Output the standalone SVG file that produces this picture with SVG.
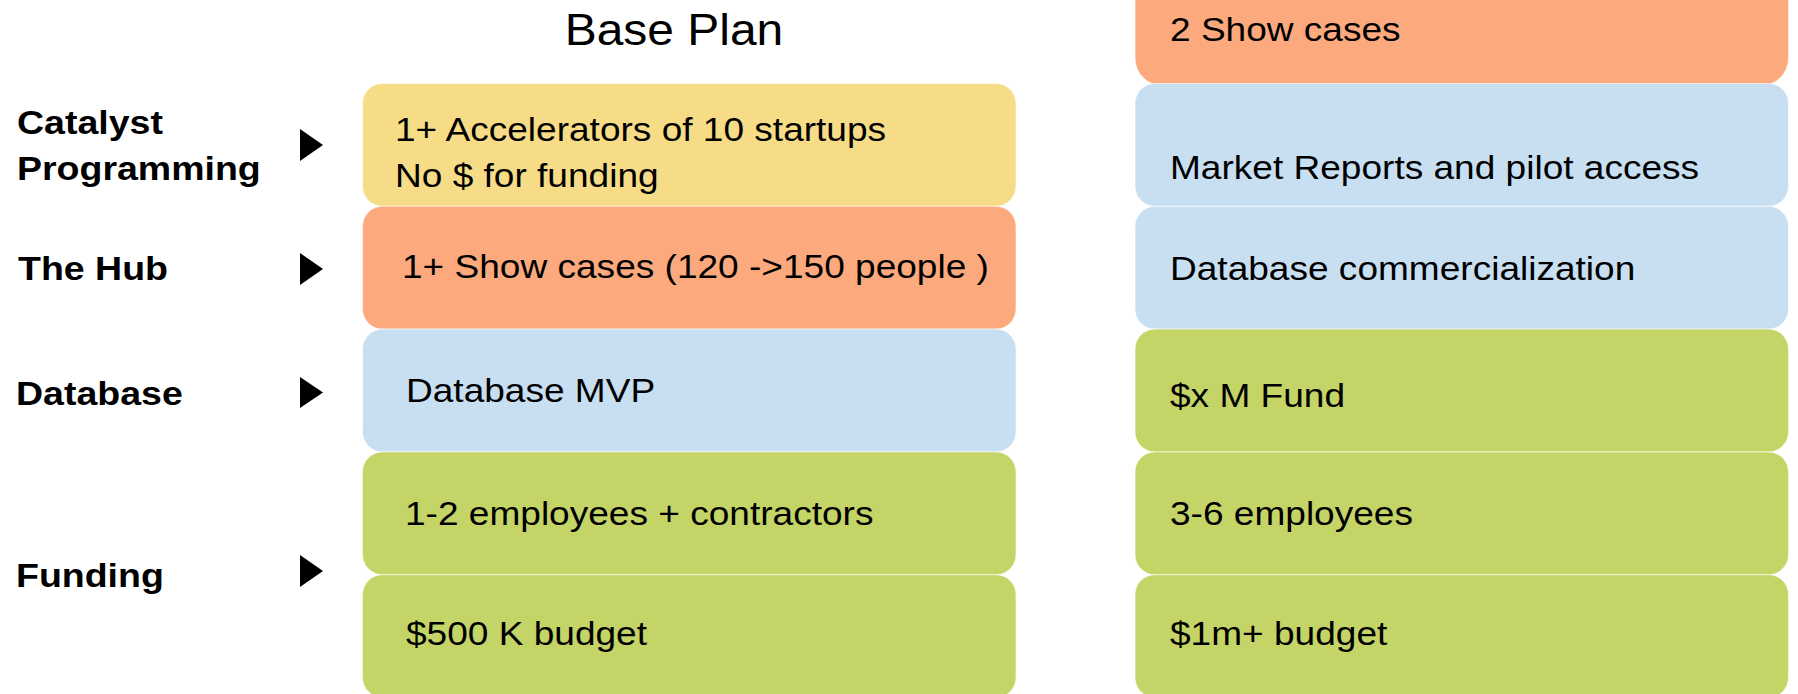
<svg xmlns="http://www.w3.org/2000/svg" width="1798" height="694" viewBox="0 0 1798 694">
<style>
.t{font-family:"Liberation Sans",Arial,sans-serif;font-size:34px;fill:#000}
.b{font-family:"Liberation Sans",Arial,sans-serif;font-size:33.5px;font-weight:bold;fill:#000}
.h{font-family:"Liberation Sans",Arial,sans-serif;font-size:44px;fill:#000}
.box{stroke:#ffffff;stroke-opacity:0.6;stroke-width:1}
.y{fill:#F6DC86}.o{fill:#FCA97D}.bl{fill:#C8DFF2}.g{fill:#C4D466}
.tri{fill:#000}
</style>
<rect width="1798" height="694" fill="#ffffff"/>
<g id="title"><text class="h" text-anchor="middle" transform="translate(674,45) scale(1.09,1)">Base Plan</text></g>

<g id="label-catalyst">
<text class="b" transform="translate(17,134) scale(1.12,1)">Catalyst</text>
<text class="b" transform="translate(17,180) scale(1.12,1)">Programming</text>
<polygon class="tri" points="300,129 323,145 300,161"/>
</g>
<g id="label-hub">
<text class="b" transform="translate(18,280) scale(1.12,1)">The Hub</text>
<polygon class="tri" points="300,253 323,269 300,285"/>
</g>
<g id="label-database">
<text class="b" transform="translate(16,405) scale(1.12,1)">Database</text>
<polygon class="tri" points="300,377 323,392.5 300,408"/>
</g>
<g id="label-funding">
<text class="b" transform="translate(16,587) scale(1.12,1)">Funding</text>
<polygon class="tri" points="300,555 323,571 300,587"/>
</g>

<g id="base-accelerators">
<rect class="box y" x="362.5" y="83.5" width="653.5" height="122.8" rx="20"/>
<text class="t" transform="translate(395,140.7) scale(1.09,1)">1+ Accelerators of 10 startups</text>
<text class="t" transform="translate(395,186.7) scale(1.09,1)">No $ for funding</text>
</g>
<g id="base-showcases">
<rect class="box o" x="362.5" y="206.3" width="653.5" height="122.8" rx="20"/>
<text class="t" transform="translate(402,278.3) scale(1.09,1)">1+ Show cases (120 -&gt;150 people )</text>
</g>
<g id="base-database">
<rect class="box bl" x="362.5" y="329.1" width="653.5" height="122.8" rx="20"/>
<text class="t" transform="translate(406,402) scale(1.09,1)">Database MVP</text>
</g>
<g id="base-employees">
<rect class="box g" x="362.5" y="451.9" width="653.5" height="122.8" rx="20"/>
<text class="t" transform="translate(405,525) scale(1.09,1)">1-2 employees + contractors</text>
</g>
<g id="base-budget">
<rect class="box g" x="362.5" y="574.7" width="653.5" height="122.8" rx="20"/>
<text class="t" transform="translate(406,645) scale(1.09,1)">$500 K budget</text>
</g>

<g id="next-showcases">
<rect class="box o" x="1135" y="-39.3" width="653.5" height="125.3" rx="28"/>
<text class="t" transform="translate(1170,40.7) scale(1.09,1)">2 Show cases</text>
</g>
<g id="next-market">
<rect class="box bl" x="1135" y="83.5" width="653.5" height="122.8" rx="20"/>
<text class="t" transform="translate(1170,179) scale(1.09,1)">Market Reports and pilot access</text>
</g>
<g id="next-database">
<rect class="box bl" x="1135" y="206.3" width="653.5" height="122.8" rx="20"/>
<text class="t" transform="translate(1170,280) scale(1.09,1)">Database commercialization</text>
</g>
<g id="next-fund">
<rect class="box g" x="1135" y="329.1" width="653.5" height="122.8" rx="20"/>
<text class="t" transform="translate(1170,407) scale(1.09,1)">$x M Fund</text>
</g>
<g id="next-employees">
<rect class="box g" x="1135" y="451.9" width="653.5" height="122.8" rx="20"/>
<text class="t" transform="translate(1170,525) scale(1.09,1)">3-6 employees</text>
</g>
<g id="next-budget">
<rect class="box g" x="1135" y="574.7" width="653.5" height="122.8" rx="20"/>
<text class="t" transform="translate(1170,645) scale(1.09,1)">$1m+ budget</text>
</g>
<g id="connectors"/>
</svg>
